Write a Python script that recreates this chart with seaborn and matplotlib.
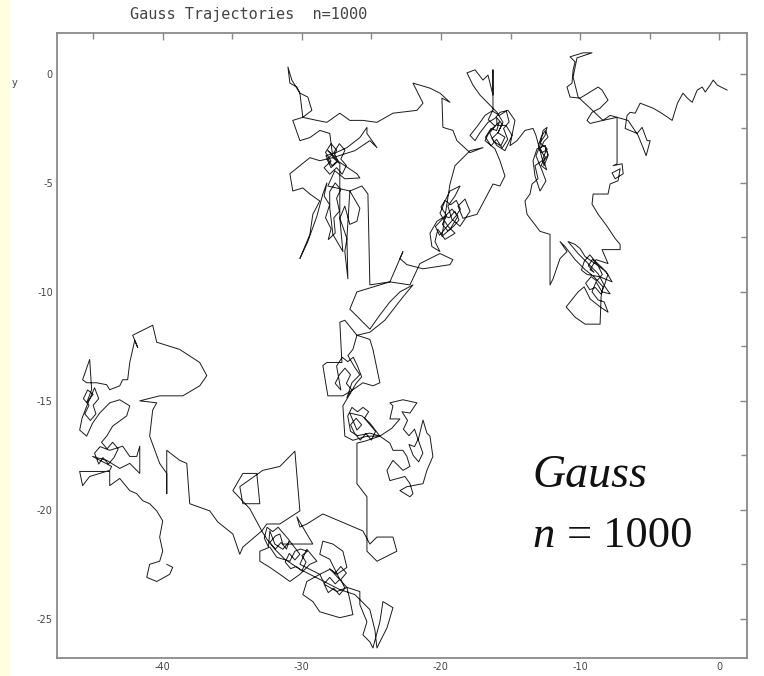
import matplotlib
matplotlib.use("Agg")
import matplotlib.pyplot as plt
import pandas as pd
import seaborn as sns
from matplotlib.patches import Rectangle
from matplotlib.ticker import FixedLocator

sns.set_theme(style="white")
plt.rcParams['font.family'] = ['DejaVu Sans']

TITLE = "Gauss Trajectories  n=1000"
x_major = [-40, -30, -20, -10, 0]
x_minor = [-45, -35, -25, -15, -5]
y_major = [0, -5, -10, -15, -20, -25]
y_minor = [-2.5, -7.5, -12.5, -17.5, -22.5]

# trajectory, in walk order
seg_start = [(0.58,-0.74),(0.29,-0.65),(-0.14,-0.51),(-0.43,-0.28),(-0.65,-0.51),(-1.0,-0.83),(-1.22,-0.6),(-1.58,-0.74),(-1.94,-1.3),(-2.3,-1.1),(-2.6,-0.88),(-3.0,-1.34),(-3.38,-2.13),(-3.67,-2.0),(-4.24,-1.76),(-4.75,-1.57),(-5.68,-1.34),(-6.04,-1.8),(-6.4,-1.76),(-6.62,-1.9),
             (-6.76,-2.5),(-5.9,-2.73),(-5.54,-2.45),(-5.18,-3.06),(-4.96,-3.06),(-5.25,-3.75),(-5.47,-3.38),(-5.83,-2.82),(-6.55,-2.13),(-7.34,-1.99)]
seg_excursion = [(-7.84,-1.9),(-8.35,-2.13),(-9.28,-2.27),(-9.5,-2.13),(-9.14,-1.76),(-8.56,-1.57),(-7.99,-1.2),(-8.42,-0.74),(-8.7,-0.6),(-9.42,-0.88),(-10.0,-1.11),(-10.72,-1.06),(-10.94,-0.6),(-10.58,-0.42),(-10.5,0.19),(-10.36,0.56),(-10.72,0.79),(-9.78,0.97),(-9.14,0.97),(-10.22,0.74),(-10.5,-0.14),(-10.14,-1.06),(-9.28,-1.57),(-8.35,-2.13),(-7.34,-1.99)]
seg_down = [(-7.34,-4.12),(-7.63,-4.21),(-6.98,-4.12),(-6.9,-4.58),(-7.48,-4.81),(-7.7,-4.54),(-7.12,-4.35),(-7.27,-4.9),(-7.84,-5.05),(-7.99,-5.51),(-9.06,-5.51),(-9.14,-5.97),(-8.7,-6.44),(-8.06,-6.99),(-7.48,-7.55),(-7.12,-7.82),(-7.12,-8.06),(-8.42,-8.06)]
seg_se_cluster = [(-7.99,-8.7),(-8.85,-8.52),(-9.28,-8.98),
                  (-9.0,-9.1),(-9.4,-8.8),(-9.1,-8.5),(-8.7,-8.8),(-8.4,-9.2),(-8.8,-9.5),(-9.2,-9.3),(-9.6,-9.6),(-9.3,-9.9),(-8.9,-9.8),(-8.5,-10.1),(-8.2,-9.6),(-8.0,-9.2),(-8.4,-8.9),(-8.9,-8.6),(-9.3,-8.3),(-9.7,-8.6),(-9.9,-9.0),(-9.5,-9.2),
                  (-8.56,-9.31),(-7.7,-9.54),(-8.13,-9.07),(-8.92,-8.7),(-9.64,-8.38),(-10.0,-8.01),(-10.36,-7.82),(-10.86,-7.69),(-10.14,-8.24),(-9.42,-8.7),(-8.7,-9.17),(-8.2,-9.77),(-7.84,-10.09),(-8.42,-10.0),(-8.85,-9.54),(-9.14,-10.0),(-8.7,-10.37),(-8.27,-10.46),(-7.99,-10.93),(-8.56,-10.69),(-9.28,-10.32),(-9.71,-9.77),(-10.14,-10.0),(-10.72,-10.46),(-11.0,-10.69),(-10.36,-11.16),(-9.64,-11.48),(-8.56,-11.48),(-8.49,-10.23),(-8.35,-9.77),(-8.99,-9.31),(-9.64,-8.98),(-10.36,-8.52),(-11.08,-7.92),(-11.44,-7.69)]
seg_west = [(-10.94,-8.15),(-11.44,-8.47),(-11.94,-9.4),(-12.16,-9.68),(-12.16,-7.36),(-12.88,-7.22),(-13.81,-6.44)]
seg_column = [(-13.96,-5.83),(-13.6,-5.51),(-13.45,-5.05),(-13.02,-4.81),(-13.24,-4.21),(-12.73,-3.98),(-12.45,-3.52),
              (-12.5,-3.3),(-12.3,-3.7),(-12.6,-4.0),(-12.4,-4.4),(-12.8,-4.2),(-12.5,-3.8),(-12.9,-3.5),(-12.6,-3.1),(-12.3,-2.9),(-12.5,-2.6),(-12.8,-2.9),(-13.0,-3.3),(-12.7,-3.6),(-12.35,-3.45),
              (-12.88,-3.15),(-12.52,-2.82),(-12.37,-2.45),(-12.66,-2.59),(-12.88,-3.29),(-13.17,-3.75),(-12.73,-4.44),(-12.45,-4.91),(-12.88,-5.37),(-13.24,-4.68),(-13.38,-3.98),(-13.09,-3.43),(-12.52,-3.29),(-12.3,-3.75),(-12.59,-4.21),(-13.17,-2.82),(-13.38,-2.5)]
seg_ne_cluster = [(-13.96,-2.59),(-14.53,-3.06),(-15.04,-3.29),(-14.68,-2.13),(-15.18,-1.67),(-15.76,-1.76),(-16.12,-2.04),(-16.62,-2.22),(-17.19,-2.69),(-17.55,-3.06),(-17.91,-2.82),(-17.34,-2.36),(-16.83,-1.9),(-16.26,-1.67),(-16.26,0.19),(-16.26,-0.97),(-16.62,-0.05),(-16.98,-0.28),(-17.55,0.19),(-18.13,0.05),(-17.7,-0.51),(-17.19,-0.97),(-16.47,-1.44),(-15.97,-1.76),(-15.54,-2.22),(-15.9,-2.69),(-16.33,-2.96),(-15.97,-3.29),(-15.4,-3.52),(-14.89,-2.82),(-15.32,-2.36),(-15.97,-2.36),
                  (-16.0,-2.0),(-15.6,-2.3),(-15.9,-2.7),(-15.4,-2.9),(-15.7,-3.3),(-16.2,-3.1),(-16.5,-2.7),(-16.1,-2.4),(-16.6,-2.1),(-16.3,-1.7),(-15.8,-1.9),(-15.3,-1.7),(-15.1,-2.2),(-15.5,-2.5),(-15.2,-3.0),(-15.6,-3.4),(-16.0,-3.0),(-16.4,-3.3),(-16.8,-2.9),(-16.4,-2.5),(-16.0,-2.6),(-15.8,-2.2),
                  (-16.47,-2.59),(-16.83,-3.06),(-16.12,-3.43),(-15.76,-3.98),(-15.4,-4.68),(-15.76,-5.14),(-16.26,-5.05),(-17.41,-6.44),(-18.42,-6.62)]
seg_mid_cluster = [(-18.78,-6.06),(-18.27,-5.74),(-17.91,-6.3),(-18.63,-6.99),(-19.21,-6.67),(-19.5,-6.06),(-18.99,-5.6),(-18.63,-5.14),(-19.35,-5.37),(-19.71,-5.83),(-20.07,-6.39),(-19.5,-6.99),(-18.99,-7.31),(-19.71,-7.59),(-20.22,-7.13),(-20.43,-7.69),(-20.07,-8.15),(-20.65,-7.92),(-20.79,-7.31),(-20.29,-6.76),(-19.71,-6.53),
                   (-19.4,-6.6),(-19.0,-6.3),(-18.7,-6.7),(-19.1,-7.0),(-19.5,-7.2),(-19.9,-6.9),(-19.6,-6.5),(-20.0,-6.1),(-19.7,-5.8),(-19.3,-6.0),(-18.9,-5.8),(-18.6,-6.2),(-18.9,-6.5),(-19.3,-6.8),(-19.7,-7.1),(-20.1,-7.4),(-20.4,-7.0),
                   (-19.21,-6.2),(-18.78,-6.53),(-19.35,-7.13),(-19.93,-7.45),(-19.35,-5.05)]
seg_nw_path = [(-18.99,-4.21),(-17.91,-3.52),(-16.98,-3.38),(-17.91,-3.61),(-18.85,-3.06),(-19.14,-2.59),(-19.86,-2.45),(-19.93,-1.11),(-19.35,-1.3),(-20.07,-0.88),(-20.79,-0.65),(-22.01,-0.42),(-21.29,-1.34),(-21.73,-1.67),(-23.45,-1.8),(-24.6,-2.22)]
seg_nw_cluster = [(-25.61,-2.13),(-26.55,-2.13),(-27.27,-1.8),(-28.2,-2.22),(-28.92,-2.13),(-29.93,-1.99),(-30.14,-0.88),(-30.36,-0.6),(-30.86,-0.42),(-31.0,0.32),(-30.72,-0.28),(-30.14,-0.88),(-29.57,-1.06),(-29.28,-1.67),(-29.93,-1.99),(-30.65,-2.13),(-30.14,-3.06),(-29.42,-2.92),(-28.71,-2.59),(-27.99,-2.73),(-27.77,-3.84),
                  (-27.5,-3.5),(-27.9,-3.2),(-28.3,-3.6),(-27.9,-4.0),(-28.4,-4.3),(-28.0,-4.6),(-27.5,-4.3),(-27.1,-4.6),(-26.8,-4.2),(-27.2,-3.9),(-26.9,-3.5),(-27.3,-3.2),(-27.7,-3.6),(-27.4,-4.0),(-27.9,-4.3),(-28.2,-3.9),(-27.8,-3.7),
                  (-28.13,-3.52),(-27.41,-3.98),(-27.84,-4.21),(-28.27,-3.75),(-27.55,-3.61),(-26.76,-3.38),(-25.83,-2.92),(-25.32,-2.45),(-25.32,-2.73),(-24.6,-3.38),(-25.11,-3.06),(-26.19,-3.52),(-27.77,-3.84),(-28.71,-3.98),(-29.42,-3.84),(-30.86,-4.58),(-30.65,-5.37),(-29.93,-5.23),(-29.42,-5.51),(-28.71,-5.83),(-29.21,-6.44),(-29.42,-7.36),(-29.93,-8.15),(-30.14,-8.47),(-29.57,-7.69),(-28.92,-6.53),(-28.49,-5.51),
                  (-28.2,-5.0),(-28.4,-5.6),(-28.0,-6.0),(-28.3,-6.6),(-27.9,-7.1),(-28.1,-7.6),(-27.6,-7.3),(-27.7,-6.6),(-27.3,-6.3),(-27.5,-5.7),(-27.2,-5.3),(-27.6,-5.0),(-28.0,-5.4),
                  (-27.99,-6.16),(-27.77,-7.36),(-27.05,-8.15),(-27.27,-6.62),(-27.27,-4.12),(-27.77,-3.84),(-26.04,-4.58),(-25.83,-4.77),(-26.91,-4.81),(-27.63,-4.44),(-28.13,-5.14),(-26.55,-5.37),(-25.83,-6.16),(-26.04,-6.76),(-26.55,-6.9),(-26.91,-6.06),(-27.27,-6.62),(-26.76,-7.55),(-26.69,-9.4),(-26.91,-8.15),(-26.76,-7.55),(-26.55,-5.37),(-25.68,-5.14),(-25.25,-5.51),(-25.11,-9.68)]
seg_loop_c = [(-23.67,-9.54),(-22.73,-8.15),(-22.95,-8.47),(-22.45,-8.75),(-21.29,-8.94),(-19.35,-8.75),(-19.14,-8.52),(-20.07,-8.24),(-21.51,-8.7),(-22.23,-9.68),(-23.67,-9.54),(-26.04,-10.0),(-26.55,-10.79)]
seg_center = [(-25.11,-11.71),(-24.39,-11.06),(-23.67,-10.46),(-22.95,-10.0),(-22.01,-9.68),(-22.73,-10.23),(-24.03,-11.3),(-25.11,-11.85),(-26.04,-11.99),(-26.91,-11.3),(-27.27,-11.39),(-27.12,-13.24),(-28.2,-13.24),(-28.49,-13.38),(-28.13,-14.77),(-27.05,-14.77),(-26.33,-14.49),(-25.61,-14.17),(-24.89,-14.31),(-24.39,-14.17),(-24.89,-12.64),(-25.11,-12.18),(-26.04,-11.99),(-26.33,-12.64),(-26.69,-12.92),(-26.19,-13.47),(-25.83,-13.8),(-26.4,-14.17),(-26.76,-14.86),
              (-26.4,-14.5),(-26.8,-14.2),(-26.5,-13.8),(-26.9,-13.5),(-27.3,-13.8),(-27.6,-14.2),(-27.2,-14.5),(-27.5,-13.4),(-27.1,-13.0),(-26.7,-13.2),(-26.3,-13.0),(-26.0,-13.4),(-25.7,-13.9),(-26.1,-14.2),
              (-27.05,-15.23),(-26.91,-16.62),(-26.33,-16.81),(-25.32,-16.62),(-24.39,-16.62),(-25.11,-16.02),(-25.68,-15.69),(-26.55,-15.56),(-26.04,-16.34),
              (-25.7,-16.1),(-26.1,-15.8),(-26.5,-16.1),(-26.2,-16.5),(-25.8,-16.8),(-25.4,-16.5),(-25.0,-16.8),(-24.7,-16.4),(-25.1,-16.1),(-25.5,-15.8),(-25.2,-15.5),(-25.6,-15.3),(-26.0,-15.5),(-26.4,-15.3),(-26.7,-15.7),(-26.5,-16.4),(-26.0,-16.6),
              (-25.11,-16.48),(-24.39,-16.62),(-23.67,-16.94),(-23.45,-17.27),(-22.73,-17.27),(-22.45,-17.55),(-22.23,-18.01),(-22.73,-18.19),(-23.45,-17.73),(-23.88,-18.19),(-23.67,-18.66),(-22.59,-18.47),(-22.23,-18.8),(-22.01,-19.26),(-22.23,-19.4),(-22.95,-19.12),(-22.45,-18.94),(-21.29,-18.8),(-21.01,-18.19),(-20.58,-17.55),(-20.79,-16.62),(-21.01,-16.48),(-21.29,-15.88),
              (-21.6,-16.7),(-21.9,-17.1),(-22.3,-17.0),(-22.0,-17.5),(-21.6,-17.8),(-21.3,-17.4),(-21.9,-16.3),(-22.3,-16.6),(-22.7,-16.3),(-22.4,-15.9),(-22.8,-15.5),
              (-22.23,-15.56),(-21.73,-15.09),(-22.73,-14.95),(-23.67,-15.09),(-23.45,-15.23),(-23.67,-15.83),(-22.95,-15.83),(-23.52,-16.25),(-24.39,-16.62),(-25.47,-16.85),(-26.04,-16.94),(-26.04,-18.8),(-25.32,-19.4),(-25.32,-20.97),(-25.32,-21.9),(-24.6,-22.36),(-23.17,-21.9),(-23.45,-21.25),(-24.6,-21.25),(-25.11,-21.57),(-25.61,-20.97),(-28.49,-20.19),(-29.64,-20.65)]
seg_bottom = [(-30.14,-20.79),(-30.36,-20.32),(-29.64,-21.11),(-29.21,-21.57),(-30.36,-21.57),(-31.37,-21.57),(-31.58,-21.11),
              (-31.9,-21.2),(-32.3,-21.5),(-31.9,-21.8),(-31.5,-21.5),(-31.1,-21.8),(-30.9,-21.4),(-31.3,-21.1),(-31.7,-20.8),(-32.1,-21.0),(-32.5,-20.8),(-32.7,-21.3),(-32.4,-21.7),
              (-32.3,-20.97),(-31.94,-21.57),(-31.37,-21.81),(-30.86,-21.44),(-30.14,-22.04),
              (-30.5,-22.3),(-30.9,-22.0),(-31.2,-22.4),(-30.8,-22.7),(-30.4,-22.6),(-30.0,-22.8),(-29.7,-22.4),(-30.0,-22.1),(-29.6,-21.9),(-30.1,-21.8),(-30.5,-21.9),
              (-30.86,-22.36),(-31.8,-22.18),(-32.3,-21.71),(-33.02,-21.9),(-33.02,-22.36),(-32.3,-22.64),(-31.58,-22.96),(-30.86,-23.29),(-30.14,-22.96),(-29.42,-22.5),(-28.92,-22.36),(-29.64,-21.81),(-30.14,-22.5),(-28.71,-22.96),(-27.99,-22.73),(-27.48,-22.96),(-26.76,-22.64),(-27.05,-21.9),(-27.77,-21.57),(-28.49,-21.44),(-28.71,-22.04),(-27.99,-22.27),(-27.27,-23.19),
              (-27.6,-23.4),(-28.0,-23.1),(-28.4,-23.4),(-28.1,-23.8),(-27.7,-23.6),(-27.3,-23.9),(-26.9,-23.6),(-27.2,-23.2),(-26.8,-22.9),(-27.2,-22.6),(-27.6,-22.9),(-28.0,-22.7),
              (-26.76,-23.56),(-27.48,-23.75),(-28.35,-23.43),(-28.71,-22.96),(-29.64,-23.29),(-29.93,-23.89),(-29.21,-24.21),(-28.71,-24.68),(-27.27,-24.95),(-26.33,-24.81),(-26.55,-24.12),(-26.76,-23.56),(-25.83,-23.75),(-25.83,-24.35),(-25.32,-25.14),(-25.61,-25.74),(-25.11,-26.06),(-24.89,-26.34),(-24.39,-25.14),(-24.17,-24.21),(-23.45,-24.49),(-23.88,-25.42),(-24.39,-26.06),(-24.6,-26.34),(-24.75,-25.51),(-25.11,-24.58),(-26.19,-23.89),(-27.27,-23.66),(-28.71,-23.19),(-30.14,-22.73),(-31.22,-22.27),(-31.94,-21.81),(-32.52,-21.34),(-32.88,-20.97),(-32.52,-20.65),(-31.58,-20.65),(-30.14,-20.05)]
seg_sw_path = [(-30.5,-17.31),(-31.58,-18.01),(-32.81,-18.19),(-34.46,-18.94),(-34.24,-19.72),(-33.02,-19.72),(-33.24,-18.33),(-34.24,-18.33),(-34.96,-19.12),(-33.74,-19.95),(-32.88,-20.97),(-34.24,-21.71),(-34.46,-22.04),(-34.96,-21.11),(-36.04,-20.56),(-36.62,-20.05),(-38.06,-19.72),(-38.27,-17.87),(-38.78,-17.73)]
seg_left = [(-39.71,-17.27),(-39.71,-19.26),(-39.71,-18.33),(-40.22,-17.87),(-40.94,-16.62),(-40.72,-15.42),(-40.43,-15.09),(-41.65,-15.0),(-40.22,-14.77),(-38.56,-14.77),(-37.34,-14.31),(-36.83,-13.84),(-37.34,-13.24),(-38.78,-12.64),(-40.43,-12.31),(-40.72,-11.53),(-42.16,-11.99),(-41.8,-12.55),(-42.01,-12.22),(-42.37,-13.24),(-42.52,-14.03),(-42.88,-14.03),(-43.09,-14.31),(-43.81,-14.49),(-44.03,-14.26),(-44.75,-14.17),(-45.47,-14.17),(-45.76,-14.03),(-45.25,-13.1),(-45.11,-14.49),(-45.47,-15.09),
            (-45.0,-14.7),(-45.4,-14.5),(-45.7,-14.9),(-45.3,-15.2),(-45.6,-15.6),(-45.2,-15.9),(-44.8,-15.6),(-45.0,-15.2),(-44.6,-14.9),(-44.9,-14.4),(-45.5,-15.3),(-45.8,-15.8),
            (-45.97,-16.34),(-45.47,-16.62),(-45.04,-16.02),(-44.53,-15.56),(-43.81,-15.09),(-43.09,-14.95),(-42.37,-15.23),(-42.59,-15.69),(-43.6,-16.16),(-44.03,-16.62),
            (-44.4,-16.9),(-44.0,-17.2),(-43.6,-16.9),(-43.2,-17.2),(-43.5,-17.6),(-43.9,-17.9),(-44.3,-17.6),(-44.6,-17.9),(-44.9,-17.4),(-44.5,-17.1),
            (-43.81,-17.27),(-42.88,-17.08),(-42.37,-17.55),(-41.87,-17.55),(-41.65,-17.08),(-41.65,-18.33),(-42.37,-17.87),(-43.09,-18.1),(-44.03,-17.73),(-45.04,-17.55),(-43.67,-18.01),(-43.81,-18.19),(-45.25,-18.47),(-45.76,-18.89),(-45.97,-18.24),(-43.81,-18.24),(-43.81,-18.89),(-43.09,-18.56),(-42.37,-19.12),(-41.87,-19.26),(-41.44,-19.58),(-40.94,-19.72),(-40.43,-20.05),(-40.0,-20.51),(-40.22,-21.25),(-40.0,-21.9),(-40.22,-22.36),(-40.94,-22.5),(-41.15,-23.1),(-40.43,-23.29),(-39.5,-22.96),(-39.28,-22.64),(-39.71,-22.5)]

segments = [seg_start, seg_excursion, seg_down, seg_se_cluster, seg_west, seg_column,
            seg_ne_cluster, seg_mid_cluster, seg_nw_path, seg_nw_cluster, seg_loop_c,
            seg_center, seg_bottom, seg_sw_path, seg_left]
pts = [p for s in segments for p in s]
df = pd.DataFrame(pts, columns=["x", "y"])
df["step"] = range(len(df))

W, H = 764, 676
fig = plt.figure(figsize=(W / 100, H / 100), dpi=100)
fig.patch.set_facecolor("white")
fig.patches.append(Rectangle((0, 0), 10 / W, 1, transform=fig.transFigure,
                             facecolor="#ffffe0", edgecolor="none", zorder=0))

ax = fig.add_axes([57 / W, 1 - 658 / H, 690 / W, 625 / H])
ax.set_facecolor("white")
sns.lineplot(data=df, x="x", y="y", sort=False, estimator=None,
             color="#1a1a1a", lw=0.7, ax=ax)
ax.set_xlim(-47.6, 2.0)
ax.set_ylim(-26.8, 1.88)
ax.set_xlabel("")
ax.set_ylabel("")

ax.xaxis.set_major_locator(FixedLocator(x_major))
ax.xaxis.set_minor_locator(FixedLocator(x_minor))
ax.yaxis.set_major_locator(FixedLocator(y_major))
ax.yaxis.set_minor_locator(FixedLocator(y_minor))
ax.set_xticklabels([str(v) for v in x_major])
ax.set_yticklabels([str(v) for v in y_major])
ax.tick_params(which="both", direction="in", top=True, right=True,
               color="#888888", width=1.0, labelsize=7, labelcolor="#444444")
ax.tick_params(which="major", length=5, pad=3)
ax.tick_params(which="minor", length=4)
for sp in ax.spines.values():
    sp.set_color("#8a8a8a")
    sp.set_linewidth(1.3)

ax.text(-13.45, -18.94, "Gauss", fontsize=33, family="Liberation Serif",
        style="italic", va="baseline", ha="left", color="#111111")
ax.text(-13.45, -21.7, "n", fontsize=32, family="Liberation Serif",
        style="italic", va="baseline", ha="left", color="#111111")
ax.text(-10.94, -21.7, "= 1000", fontsize=32, family="Liberation Serif",
        va="baseline", ha="left", color="#111111")

fig.text(130 / W, 1 - 15 / H, TITLE, family="DejaVu Sans Mono", fontsize=11,
         va="center", ha="left", color="#444444")
fig.text(15 / W, 1 - 83 / H, "y", fontsize=7, va="center", ha="center", color="#444444")

fig.savefig("out.png", dpi=100)
